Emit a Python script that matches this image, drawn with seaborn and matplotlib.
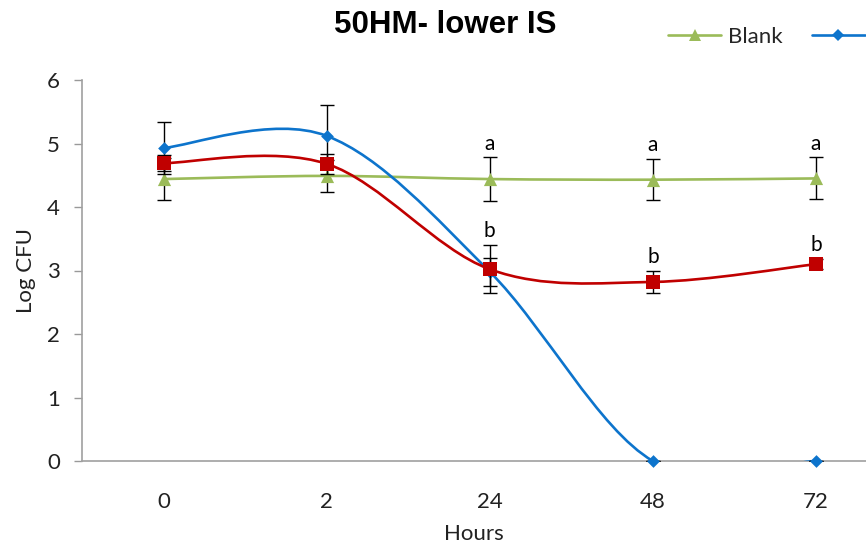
import numpy as np
import matplotlib
matplotlib.use("Agg")
import matplotlib.pyplot as plt
import seaborn as sns
from matplotlib.path import Path
from matplotlib.patches import PathPatch
from matplotlib.lines import Line2D

# ---- data ----
hours = ["0", "2", "24", "48", "72"]
blank = [4.44, 4.49, 4.44, 4.43, 4.45]
blank_err = [0.33, 0.25, 0.34, 0.32, 0.33]
blue = [4.93, 5.12, 2.98, 0.0, 0.0]
blue_err = [0.41, 0.48, 0.22, 0.0, 0.0]
red = [4.69, 4.68, 3.02, 2.82, 3.10]
red_err = [0.13, 0.16, 0.38, 0.17, 0.08]
letters_a = ["", "", "a", "a", "a"]
letters_b = ["", "", "b", "b", "b"]

GREEN = "#9BBB59"
BLUE = "#0D74CC"
RED = "#C00000"

sns.set_style("white")
plt.rcParams["font.family"] = ["Lato", "DejaVu Sans"]

fig = plt.figure(figsize=(8.66, 5.49), dpi=100)
ax = fig.add_axes([82 / 866, 88 / 549, 1 - 82 / 866, (461 - 80) / 549])

xs = np.arange(len(hours))


def smooth_path(ys):
    pts = np.column_stack([xs, np.asarray(ys, float)])
    n = len(pts)
    verts = [pts[0]]
    codes = [Path.MOVETO]
    for i in range(n - 1):
        p0 = pts[i - 1] if i > 0 else pts[i]
        p1 = pts[i]
        p2 = pts[i + 1]
        p3 = pts[i + 2] if i + 2 < n else pts[i + 1]
        c1 = p1 + (p2 - p0) / 6.0
        c2 = p2 - (p3 - p1) / 6.0
        verts += [c1, c2, p2]
        codes += [Path.CURVE4] * 3
    return Path(verts, codes)


series = [
    (blank, blank_err, GREEN, "^", 90, 2),
    (blue, blue_err, BLUE, "D", 42, 3),
    (red, red_err, RED, "s", 105, 4),
]

for ys, errs, col, mk, size, z in series:
    patch = PathPatch(smooth_path(ys), facecolor="none", edgecolor=col,
                      lw=1.9, zorder=z, clip_on=True)
    ax.add_patch(patch)
    ax.errorbar(xs, ys, yerr=errs, fmt="none", ecolor="black", elinewidth=1.0,
                capsize=5, capthick=1.0, zorder=z + 0.5)
    sns.scatterplot(x=xs, y=ys, marker=mk, s=size, color=col, edgecolor=col,
                    linewidth=0, ax=ax, zorder=z + 0.6, clip_on=False)

for i, t in enumerate(letters_a):
    if t:
        ax.text(xs[i], blank[i] + blank_err[i] + 0.22, t, ha="center", va="center",
                fontsize=15, color="black")
for i, t in enumerate(letters_b):
    if t:
        ax.text(xs[i], red[i] + red_err[i] + 0.22, t, ha="center", va="center",
                fontsize=15, color="black")

ax.set_xlim(-0.5, (866 - 164) / 163)
ax.set_ylim(0, 6)
ax.set_xticks(xs)
ax.set_xticklabels(hours)
ax.set_yticks(range(0, 7))
ax.tick_params(axis="both", labelsize=16, colors="#222222")
ax.tick_params(axis="y", length=6, width=1, color="#999999", direction="out", pad=10, left=True)
ax.tick_params(axis="x", length=0, pad=22)
for s in ["top", "right"]:
    ax.spines[s].set_visible(False)
for s in ["left", "bottom"]:
    ax.spines[s].set_color("#A0A0A0")
    ax.spines[s].set_linewidth(1.2)
ax.set_xlabel("Hours", fontsize=16, color="#222222", labelpad=9)
ax.set_ylabel("Log CFU", fontsize=16, color="#222222", labelpad=8)

fig.text(445 / 866, 1 - 25 / 549, "50HM- lower IS", ha="center", va="center",
         fontsize=22.5, fontweight="bold", color="black",
         family=["Liberation Sans", "DejaVu Sans"])

handles = [
    Line2D([], [], color=GREEN, lw=1.9, marker="^", markersize=9, markeredgewidth=0),
    Line2D([], [], color=BLUE, lw=1.9, marker="D", markersize=6, markeredgewidth=0),
]
fig.legend(handles, ["Blank", ""], loc="center left", bbox_to_anchor=(668 / 866, 1 - 37 / 549),
           ncol=2, frameon=False, fontsize=16, handlelength=2.4, handletextpad=0.3,
           columnspacing=1.3, borderaxespad=0, borderpad=0)

fig.savefig("out.png", dpi=100)
